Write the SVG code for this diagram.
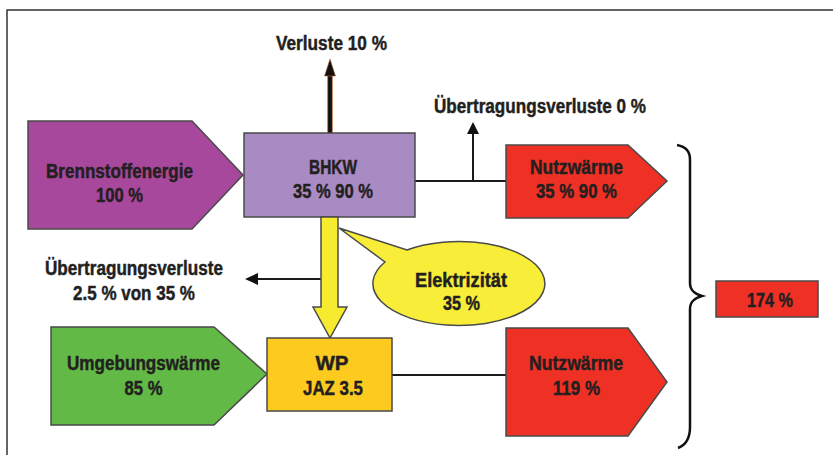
<svg xmlns="http://www.w3.org/2000/svg" width="833" height="455" viewBox="0 0 833 455">
<style>
.t{font-family:"Liberation Sans",Arial,sans-serif;font-weight:bold;font-size:19.5px;fill:#231f20;stroke:#231f20;stroke-width:0.45}
.shape{stroke:#4a4a4a;stroke-width:1.5}
.ln{stroke:#1a1a1a;stroke-width:2;fill:none}
</style>
<rect width="833" height="455" fill="#ffffff"/>
<g id="frame">
<path d="M7 455 L7 10 L833 10" fill="none" stroke="#333" stroke-width="1.5"/>
</g>
<g id="connectors">
<line x1="330" y1="133" x2="330" y2="72" stroke="#b8683c" stroke-width="5.5"/>
<line x1="330" y1="133" x2="330" y2="72" stroke="#111" stroke-width="3.8"/>
<polygon points="330,59 335.5,76 324.5,76" fill="#111" stroke="#b8683c" stroke-width="0.6"/>
<line class="ln" x1="415" y1="181" x2="506" y2="181"/>
<line class="ln" x1="473" y1="181" x2="473" y2="131"/>
<polygon points="473,122 479,134 467,134" fill="#111"/>
<line class="ln" x1="324" y1="279" x2="256" y2="279"/>
<polygon points="245,279 258,273 258,285" fill="#111"/>
<line class="ln" x1="392" y1="375" x2="506" y2="375"/>
<path d="M677 145 C686 147 690 151 690 160 L690 283 C690 291 695 294 702 296 C695 298 690 301 690 309 L690 427 C690 438 686 445 678 448" fill="none" stroke="#111" stroke-width="2.5"/>
</g>
<g id="brennstoffenergie">
<polygon class="shape" points="28,121 192,121 243,175 192,229 28,229" fill="#a8489c"/>
<text class="t" x="119.5" y="178" text-anchor="middle" textLength="147" lengthAdjust="spacingAndGlyphs">Brennstoffenergie</text>
<text class="t" x="119.5" y="202" text-anchor="middle" textLength="47" lengthAdjust="spacingAndGlyphs">100 %</text>
</g>
<g id="bhkw">
<rect class="shape" x="244" y="133" width="171" height="84" fill="#a98bc4"/>
<text class="t" x="333" y="174" text-anchor="middle" textLength="48" lengthAdjust="spacingAndGlyphs">BHKW</text>
<text class="t" x="333" y="198" text-anchor="middle" textLength="80" lengthAdjust="spacingAndGlyphs">35 % 90 %</text>
</g>
<g id="verluste">
<text class="t" x="331.5" y="50" text-anchor="middle" textLength="111" lengthAdjust="spacingAndGlyphs">Verluste 10 %</text>
</g>
<g id="uebertragung0">
<text class="t" x="540" y="113" text-anchor="middle" textLength="212" lengthAdjust="spacingAndGlyphs">Übertragungsverluste 0 %</text>
</g>
<g id="nutzwaerme1">
<polygon class="shape" points="506,145 628,145 667,181 628,218 506,218" fill="#ee3124"/>
<text class="t" x="576.5" y="174" text-anchor="middle" textLength="93" lengthAdjust="spacingAndGlyphs">Nutzwärme</text>
<text class="t" x="576.5" y="198" text-anchor="middle" textLength="81" lengthAdjust="spacingAndGlyphs">35 % 90 %</text>
</g>
<g id="strom">
<polygon class="shape" points="321,217 338,217 338,307 347,307 330,338 313,307 321,307" fill="#f6eb2e" stroke-width="1"/>
</g>
<g id="elektrizitaet">
<path class="shape" d="M407 250 A86 42 0 1 1 385 262 L339 228 Z" fill="#f8ee3a"/>
<text class="t" x="461" y="287" text-anchor="middle" textLength="92" lengthAdjust="spacingAndGlyphs">Elektrizität</text>
<text class="t" x="461.5" y="310" text-anchor="middle" textLength="37" lengthAdjust="spacingAndGlyphs">35 %</text>
</g>
<g id="uebertragung25">
<text class="t" x="134" y="275" text-anchor="middle" textLength="178" lengthAdjust="spacingAndGlyphs">Übertragungsverluste</text>
<text class="t" x="134" y="300" text-anchor="middle" textLength="122" lengthAdjust="spacingAndGlyphs">2.5 % von 35 %</text>
</g>
<g id="umgebungswaerme">
<polygon class="shape" points="51,327 214,327 267,374 214,425 51,425" fill="#62b946"/>
<text class="t" x="143.5" y="370" text-anchor="middle" textLength="153" lengthAdjust="spacingAndGlyphs">Umgebungswärme</text>
<text class="t" x="143.5" y="395" text-anchor="middle" textLength="38" lengthAdjust="spacingAndGlyphs">85 %</text>
</g>
<g id="wp">
<rect class="shape" x="267" y="338" width="125" height="73" fill="#fdca20"/>
<text class="t" x="332" y="370" text-anchor="middle" textLength="33" lengthAdjust="spacingAndGlyphs">WP</text>
<text class="t" x="333" y="395" text-anchor="middle" textLength="60" lengthAdjust="spacingAndGlyphs">JAZ 3.5</text>
</g>
<g id="nutzwaerme2">
<polygon class="shape" points="506,328 628,328 667,382 628,436 506,436" fill="#ee3124"/>
<text class="t" x="576" y="370" text-anchor="middle" textLength="94" lengthAdjust="spacingAndGlyphs">Nutzwärme</text>
<text class="t" x="576.5" y="395" text-anchor="middle" textLength="47" lengthAdjust="spacingAndGlyphs">119 %</text>
</g>
<g id="summe">
<rect class="shape" x="716" y="281" width="102" height="36" fill="#ee3124"/>
<text class="t" x="770" y="307" text-anchor="middle" textLength="46" lengthAdjust="spacingAndGlyphs">174 %</text>
</g>
</svg>
